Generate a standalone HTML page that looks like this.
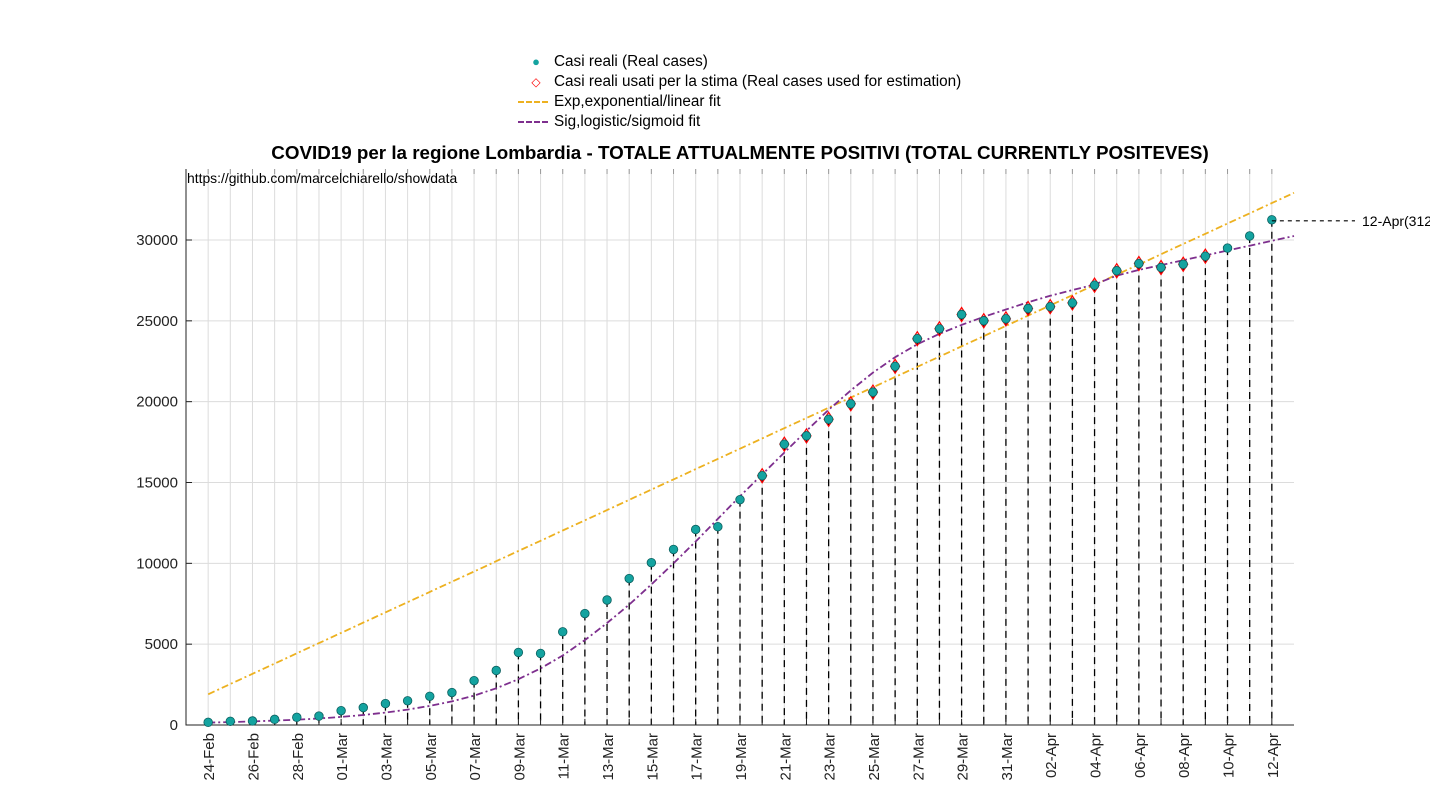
<!DOCTYPE html>
<html><head><meta charset="utf-8"><style>
body{margin:0;background:#fff;width:1430px;height:800px;overflow:hidden;font-family:"Liberation Sans",sans-serif}
svg{display:block}
</style></head><body>
<svg id="chart" width="1430" height="800" xmlns="http://www.w3.org/2000/svg" font-family="Liberation Sans, sans-serif"></svg>
<script>
const dates=["24-Feb","25-Feb","26-Feb","27-Feb","28-Feb","29-Feb","01-Mar","02-Mar","03-Mar","04-Mar","05-Mar","06-Mar","07-Mar","08-Mar","09-Mar","10-Mar","11-Mar","12-Mar","13-Mar","14-Mar","15-Mar","16-Mar","17-Mar","18-Mar","19-Mar","20-Mar","21-Mar","22-Mar","23-Mar","24-Mar","25-Mar","26-Mar","27-Mar","28-Mar","29-Mar","30-Mar","31-Mar","01-Apr","02-Apr","03-Apr","04-Apr","05-Apr","06-Apr","07-Apr","08-Apr","09-Apr","10-Apr","11-Apr","12-Apr"];
const cases=[166,231,249,349,474,552,887,1077,1326,1497,1777,2008,2742,3372,4490,4427,5763,6896,7732,9059,10043,10861,12095,12266,13938,15420,17370,17885,18910,19868,20591,22189,23895,24509,25392,25006,25124,25765,25876,26109,27206,28100,28545,28300,28500,29000,29500,30250,31250];
const estStart=25, estEnd=45;
const linFit=[1900,633]; // intercept, slope per day
const sigFitValues=[150,180,220,270,330,400,500,620,770,950,1180,1460,1820,2270,2830,3500,4300,5250,6300,7450,8700,10000,11350,12750,14150,15500,16850,18200,19500,20700,21800,22750,23550,24200,24750,25250,25700,26150,26550,26900,27250,27800,28150,28450,28750,29050,29350,29650,29950,30250];
const yTicks=[0,5000,10000,15000,20000,25000,30000];
const NS="http://www.w3.org/2000/svg";
const svg=document.getElementById('chart');
const X0=186,X1=1294,Y0=725,YT=169;
const xs=d=>X0+(d+1)*(X1-X0)/50;
const ys=v=>Y0-v*485/30000;
function mk(t,a,p){const e=document.createElementNS(NS,t);for(const k in a)e.setAttribute(k,a[k]);(p||svg).appendChild(e);return e;}
for(let d=0;d<dates.length;d++){const g=mk('line',{x1:xs(d),x2:xs(d),y1:YT,y2:Y0,stroke:'#dcdcdc','stroke-width':1});


const tk=mk('line',{x1:xs(d),x2:xs(d),y1:YT,y2:YT+5,stroke:'#999','stroke-width':1});

}
yTicks.forEach(v=>{const g=mk('line',{x1:X0,x2:X1,y1:ys(v),y2:ys(v),stroke:'#dcdcdc','stroke-width':1});


const t=mk('text',{x:X0-8,y:ys(v)+5,'text-anchor':'end','font-size':15,fill:'#222'});t.textContent=v;


const tk=mk('line',{x1:X0,x2:X0+6,y1:ys(v),y2:ys(v),stroke:'#222'});

});
cases.forEach((v,d)=>{const l=mk('line',{x1:xs(d),x2:xs(d),y1:ys(v),y2:Y0,stroke:'#000','stroke-width':1.3,'stroke-dasharray':'7,5'});

});
const ax=mk('path',{d:`M${X0} ${YT}V${Y0}H${X1}`,stroke:'#222',fill:'none','stroke-width':1});


dates.forEach((s,d)=>{const tk=mk('line',{x1:xs(d),x2:xs(d),y1:Y0,y2:Y0-6,stroke:'#222'});


if(d%2==0){const t=mk('text',{x:0,y:0,'text-anchor':'end','font-size':15,fill:'#222',transform:`translate(${xs(d)+6},${Y0+8}) rotate(-90)`});t.textContent=s;

}});
let pl='',ps='';
for(let t=0;t<=49;t+=0.5){const lv=linFit[0]+linFit[1]*t;pl+=(t?'L':'M')+xs(t).toFixed(1)+' '+ys(lv).toFixed(1);}
sigFitValues.forEach((v,t)=>{ps+=(t?'L':'M')+xs(t).toFixed(1)+' '+ys(v).toFixed(1);});
const lf=mk('path',{d:pl,stroke:'#edb120',fill:'none','stroke-width':1.8,'stroke-dasharray':'7,3,2,3'});


const sf=mk('path',{d:ps,stroke:'#7e2f8e',fill:'none','stroke-width':1.8,'stroke-dasharray':'7,3,2,3','stroke-linejoin':'round'});


cases.forEach((v,d)=>{const x=xs(d),y=ys(v);
if(d>=estStart&&d<=estEnd){const dm=mk('path',{d:`M${x} ${y-7}L${x+4.5} ${y}L${x} ${y+7}L${x-4.5} ${y}Z`,fill:'none',stroke:'#f00','stroke-width':1.2});

}
const c=mk('circle',{cx:x,cy:y,r:4.3,fill:'#14a3a0',stroke:'#0b5f5e','stroke-width':0.8});

});
const last=cases.length-1;
const an=mk('line',{x1:xs(last),x2:1355,y1:ys(cases[last])+1,y2:ys(cases[last])+1,stroke:'#000','stroke-width':1.2,'stroke-dasharray':'4,4'});


const at=mk('text',{x:1362,y:ys(cases[last])+6,'font-size':14,fill:'#000'});at.textContent='12-Apr('+cases[last]+')';


</script>
<div style="position:absolute;left:0;width:1480px;top:142px;text-align:center;font-weight:bold;font-size:18.8px;color:#000;white-space:nowrap">COVID19 per la regione Lombardia - TOTALE ATTUALMENTE POSITIVI (TOTAL CURRENTLY POSITEVES)</div>
<div style="position:absolute;left:187px;top:170px;font-size:13.9px;color:#000">https://github.com/marcelchiarello/showdata</div>
<div style="position:absolute;left:518px;top:52px;font-size:15.3px;color:#000;line-height:20px;white-space:nowrap">
<div><span style="display:inline-block;width:36px;text-align:center;color:#14a3a0;font-size:13px">●</span>Casi reali (Real cases)</div>
<div><span style="display:inline-block;width:36px;text-align:center;color:#f00;font-size:12px">◇</span>Casi reali usati per la stima (Real cases used for estimation)</div>
<div><span style="display:inline-block;width:30px;margin-right:6px;vertical-align:middle;border-top:2px dashed #edb120"></span>Exp,exponential/linear fit</div>
<div><span style="display:inline-block;width:30px;margin-right:6px;vertical-align:middle;border-top:2px dashed #7e2f8e"></span>Sig,logistic/sigmoid fit</div>
</div>
</body></html>
